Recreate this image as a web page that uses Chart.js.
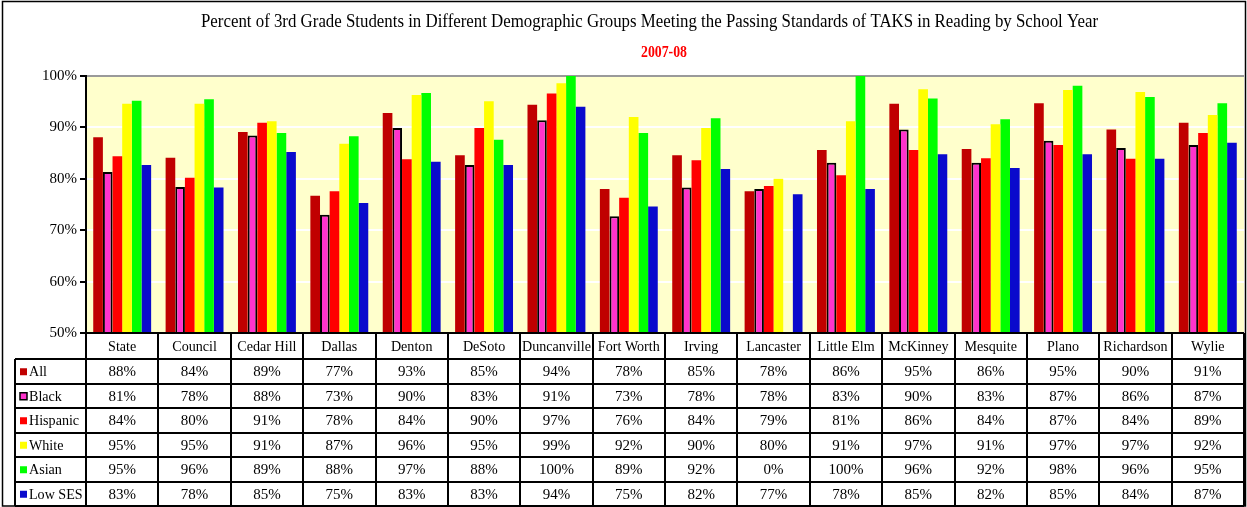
<!DOCTYPE html>
<html>
<head>
<meta charset="utf-8">
<script src="https://cdn.jsdelivr.net/npm/chart.js@4.4.1/dist/chart.umd.min.js"></script>
<style>
  html, body { margin: 0; padding: 0; background: #fff; }
  #wrap { width: 1247px; height: 507px; position: relative; }
  canvas { display: block; }
</style>
</head>
<body>
<div id="wrap"><canvas id="c" width="1247" height="507"></canvas></div>
<script>
const chartTitle = 'Percent of 3rd Grade Students in Different Demographic Groups Meeting the Passing Standards of TAKS in Reading by School Year';
const chartSubtitle = '2007-08';
const categories = ['State','Council','Cedar Hill','Dallas','Denton','DeSoto','Duncanville','Fort Worth','Irving','Lancaster','Little Elm','McKinney','Mesquite','Plano','Richardson','Wylie'];
const seriesNames = ['All','Black','Hispanic','White','Asian','Low SES'];
const allValues      = [88.1, 84.1, 89.1, 76.7, 92.8, 84.6, 94.4, 78.0, 84.6, 77.6, 85.6, 94.6, 85.8, 94.7, 89.6, 90.9];
const blackValues    = [81.3, 78.4, 88.4, 73.0, 89.9, 82.7, 91.4, 72.7, 78.3, 78.0, 83.1, 89.6, 83.1, 87.4, 86.0, 86.6];
const hispanicValues = [84.4, 80.2, 90.9, 77.6, 83.8, 89.9, 96.6, 76.3, 83.6, 78.6, 80.7, 85.6, 84.0, 86.6, 83.9, 88.9];
const whiteValues    = [94.6, 94.6, 91.2, 86.8, 96.3, 95.1, 98.6, 92.0, 89.9, 80.0, 91.2, 97.4, 90.6, 97.3, 96.9, 92.4];
const asianValues    = [95.2, 95.5, 88.9, 88.3, 96.7, 87.6, 100, 88.9, 91.8, 0, 100, 95.6, 91.6, 98.1, 95.9, 94.7];
const lowSesValues   = [82.7, 78.3, 85.2, 75.3, 83.3, 82.7, 94.0, 74.6, 81.9, 77.0, 78.0, 84.8, 82.1, 84.8, 83.9, 87.0];
const yTicks = [50, 60, 70, 80, 90, 100];

const seriesValues = [allValues, blackValues, hispanicValues, whiteValues, asianValues, lowSesValues];
const seriesColors = ['#C00000', '#FF33CC', '#FF0000', '#FFFF00', '#00FF00', '#0A0ACC'];
const FONT = '"Liberation Serif", "Times New Roman", serif';

function squeezeText(ctx, text, x, y, factor) {
  const w = ctx.measureText(text).width;
  ctx.fillText(text, x, y, w * factor);
}

const decorPlugin = {
  id: 'decor',
  beforeDraw(chart) {
    const ctx = chart.ctx, a = chart.chartArea;
    ctx.save();
    ctx.fillStyle = '#fff';
    ctx.fillRect(0, 0, chart.width, chart.height);
    ctx.fillStyle = '#FFFFCC';
    ctx.fillRect(a.left, a.top, a.right - a.left, a.bottom - a.top);
    ctx.restore();
  },
  afterDraw(chart) {
    const ctx = chart.ctx, a = chart.chartArea, xs = chart.scales.x;
    ctx.save();
    // Title
    ctx.fillStyle = '#000';
    ctx.font = '18px ' + FONT;
    ctx.textAlign = 'left';
    ctx.textBaseline = 'alphabetic';
    ctx.fillText(chartTitle, 201, 27, 897);
    ctx.fillStyle = '#FF0000';
    ctx.font = 'bold 16px ' + FONT;
    ctx.textAlign = 'center';
    ctx.fillText(chartSubtitle, 664, 57, 46);

    // Table geometry
    const n = categories.length;
    const cw = (a.right - a.left) / n;
    const headTop = a.bottom, headBot = 359, rowH = 24.5;
    const tableLeft = 15;
    const tableBottom = headBot + rowH * seriesNames.length;

    ctx.strokeStyle = '#000';
    ctx.lineWidth = 2;
    for (let i = 0; i <= n; i++) {
      const x = Math.round(a.left + cw * i);
      ctx.beginPath();
      ctx.moveTo(x, headTop);
      ctx.lineTo(x, tableBottom);
      ctx.stroke();
    }
    ctx.beginPath();
    ctx.moveTo(tableLeft, headBot);
    ctx.lineTo(tableLeft, tableBottom);
    ctx.stroke();
    for (let r = 0; r <= seriesNames.length; r++) {
      const y = Math.round(headBot + rowH * r);
      ctx.beginPath();
      ctx.moveTo(tableLeft, y);
      ctx.lineTo(a.right, y);
      ctx.stroke();
    }
    // x axis line
    ctx.beginPath();
    ctx.moveTo(a.left - 6, a.bottom);
    ctx.lineTo(a.right, a.bottom);
    ctx.stroke();

    // header labels
    ctx.fillStyle = '#000';
    ctx.font = '15px ' + FONT;
    ctx.textAlign = 'center';
    ctx.textBaseline = 'middle';
    for (let i = 0; i < n; i++) {
      const cx = xs.getPixelForValue(i);
      squeezeText(ctx, categories[i], cx, (headTop + headBot) / 2 + 1, 0.94);
    }
    // rows
    for (let r = 0; r < seriesNames.length; r++) {
      const cy = headBot + rowH * r + rowH / 2 + 1;
      ctx.fillStyle = seriesColors[r];
      ctx.fillRect(20, cy - 4, 7, 7);
      if (r === 1) {
        ctx.lineWidth = 1.5;
        ctx.strokeStyle = '#000';
        ctx.strokeRect(20, cy - 4, 7, 7);
      }
      ctx.fillStyle = '#000';
      ctx.textAlign = 'left';
      squeezeText(ctx, seriesNames[r], 29, cy, 0.94);
      ctx.textAlign = 'center';
      for (let i = 0; i < n; i++) {
        const cx = xs.getPixelForValue(i);
        ctx.fillText(Math.round(seriesValues[r][i]) + '%', cx, cy);
      }
    }

    // outer border
    ctx.strokeStyle = '#000';
    ctx.lineWidth = 1.5;
    ctx.strokeRect(2.5, 1.5, 1243, 504.5);
    ctx.restore();
  }
};

new Chart(document.getElementById('c'), {
  type: 'bar',
  data: {
    labels: categories,
    datasets: seriesNames.map((name, k) => ({
      label: name,
      data: seriesValues[k],
      backgroundColor: seriesColors[k],
      borderColor: '#000',
      borderWidth: k === 1 ? 2 : 0,
      barPercentage: 1.0,
      categoryPercentage: 0.8
    }))
  },
  options: {
    responsive: false,
    animation: false,
    devicePixelRatio: 1,
    layout: { padding: { left: 0, right: 3, top: 76, bottom: 174 } },
    plugins: {
      legend: { display: false },
      title: { display: false },
      tooltip: { enabled: false }
    },
    scales: {
      x: { display: false },
      y: {
        min: 50,
        max: 100,
        afterBuildTicks(scale) { scale.ticks = yTicks.map(v => ({ value: v })); },
        afterFit(scale) { scale.width = 86; },
        border: { display: true, color: '#000', width: 2 },
        grid: {
          color: (c) => (c.tick && c.tick.value === 100) ? '#9a9a9a' : '#ffffff',
          lineWidth: 2,
          tickColor: '#000',
          tickLength: 6,
          drawTicks: true
        },
        ticks: {
          color: '#000',
          font: { family: FONT, size: 15 },
          padding: 3,
          callback: (v) => v + '%'
        }
      }
    }
  },
  plugins: [decorPlugin]
});
</script>
</body>
</html>
